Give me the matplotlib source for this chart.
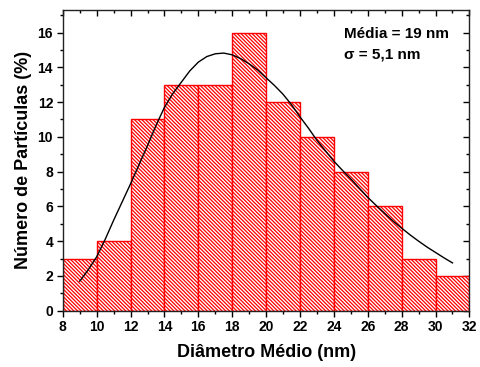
import matplotlib
matplotlib.use("Agg")
import matplotlib.pyplot as plt
from matplotlib.ticker import MultipleLocator

plt.rcParams['font.family'] = ['Liberation Sans', 'DejaVu Sans']
plt.rcParams['font.weight'] = 'bold'
plt.rcParams['hatch.linewidth'] = 0.9

# Histogram data (bin left edges, width 2 nm)
bin_left = [8, 10, 12, 14, 16, 18, 20, 22, 24, 26, 28, 30]
percent = [3, 4, 11, 13, 13, 16, 12, 10, 8, 6, 3, 2]

# Fitted curve
fit_x = [9.0, 9.5, 10.0, 10.5, 11.0, 11.5, 12.0, 12.5, 13.0, 13.5, 14.0, 14.5, 15.0, 15.5,
         16.0, 16.5, 17.0, 17.5, 18.0, 18.5, 19.0, 19.5, 20.0, 20.5, 21.0, 21.5, 22.0, 22.5,
         23.0, 23.5, 24.0, 24.5, 25.0, 25.5, 26.0, 26.5, 27.0, 27.5, 28.0, 28.5, 29.0, 29.5,
         30.0, 30.5, 31.0]
fit_y = [1.7, 2.35, 3.1, 4.1, 5.2, 6.25, 7.3, 8.4, 9.5, 10.65, 11.7, 12.5, 13.15, 13.8,
         14.3, 14.62, 14.78, 14.82, 14.72, 14.5, 14.2, 13.85, 13.4, 12.95, 12.45, 11.85, 11.15, 10.5,
         9.8, 9.2, 8.6, 8.08, 7.58, 7.05, 6.52, 6.05, 5.6, 5.15, 4.75, 4.36, 4.0, 3.66,
         3.35, 3.04, 2.75]

xticks = [8, 10, 12, 14, 16, 18, 20, 22, 24, 26, 28, 30, 32]
yticks = [0, 2, 4, 6, 8, 10, 12, 14, 16]

fig = plt.figure(figsize=(4.8, 3.67), dpi=100)
ax = fig.add_axes([0.1308, 0.1534, 0.978 - 0.1308, 0.9728 - 0.1534])

ax.bar(bin_left, percent, width=2, align='edge', facecolor='white',
       edgecolor='red', hatch='\\' * 9, linewidth=1.0, zorder=2)
ax.plot(fit_x, fit_y, color='black', linewidth=1.0, zorder=3)

ax.set_xlim(8, 32)
ax.set_ylim(0, 17.3)
ax.set_xticks(xticks)
ax.set_yticks(yticks)
ax.xaxis.set_minor_locator(MultipleLocator(1))
ax.yaxis.set_minor_locator(MultipleLocator(1))
ax.tick_params(axis='both', which='major', direction='out', length=4, width=1,
               labelsize=10, pad=3)
ax.tick_params(axis='both', which='minor', direction='out', length=2, width=1)
for lab in ax.get_xticklabels() + ax.get_yticklabels():
    lab.set_fontweight('bold')

# top and right mirror ticks pointing inward
axt = ax.secondary_xaxis('top')
axt.set_xticks(xticks)
axt.xaxis.set_minor_locator(MultipleLocator(1))
axt.tick_params(which='major', direction='in', length=4, width=1, labeltop=False)
axt.tick_params(which='minor', direction='in', length=2, width=1)
axr = ax.secondary_yaxis('right')
axr.set_yticks(yticks)
axr.yaxis.set_minor_locator(MultipleLocator(1))
axr.tick_params(which='major', direction='in', length=4, width=1, labelright=False)
axr.tick_params(which='minor', direction='in', length=2, width=1)
axt.spines['top'].set_visible(False)
axr.spines['right'].set_visible(False)

for s in ax.spines.values():
    s.set_linewidth(1.0)
    s.set_color('#222222')

ax.set_xlabel('Diâmetro Médio (nm)', fontsize=13, fontweight='bold', labelpad=7)
ax.set_ylabel('Número de Partículas (%)', fontsize=13, fontweight='bold', labelpad=4)

ax.text(0.692, 0.92, 'Média = 19 nm', transform=ax.transAxes, fontsize=11,
        fontweight='bold', va='center', ha='left')
ax.text(0.692, 0.853, 'σ = 5,1 nm', transform=ax.transAxes, fontsize=11,
        fontweight='bold', va='center', ha='left')

fig.savefig('out.png', dpi=100)
